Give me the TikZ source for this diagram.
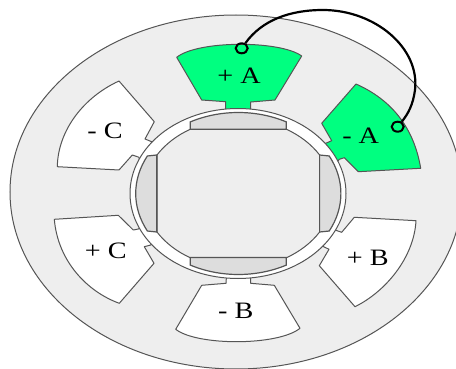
\documentclass[tikz,border=0pt]{standalone}
\usepackage{fontspec}
\setmainfont[FakeStretch=1.2]{Liberation Serif}
\definecolor{yokegray}{HTML}{EEEEEE}
\definecolor{magnetgray}{HTML}{DDDDDD}
\definecolor{coilgreen}{HTML}{00FF80}
\definecolor{edgegray}{HTML}{555555}
\tikzset{
  yoke/.style={draw=edgegray,fill=yokegray,line width=1pt},
  pole/.style={draw=edgegray,line width=1pt,line join=round},
  whitepole/.style={pole,fill=white},
  greenpole/.style={pole,fill=coilgreen},
  bore/.style={draw=edgegray,fill=white,line width=1pt},
  rotor/.style={draw=edgegray,fill=yokegray,line width=1pt},
  magnet/.style={draw=edgegray,fill=magnetgray,line width=1.2pt,line join=miter},
  polelabel/.style={inner sep=0pt,font=\fontsize{23.5}{25}\selectfont},
  terminal/.style={draw=black,line width=2pt,ellipse,minimum width=12pt,minimum height=10pt,inner sep=0pt},
  wire/.style={draw=black,line width=2.2pt}
}
\usetikzlibrary{shapes.geometric}
\def\rp#1{({238.3+95*cos(#1)},{193.5-74.5*sin(#1)})}
\def\mg#1{({238.3+102.6*cos(#1)},{193.5-81*sin(#1)})}
\begin{document}
\begin{tikzpicture}[x=1pt,y=-1pt]
\useasboundingbox (0,0) rectangle (456,369);
\clip (0,0) rectangle (456,369);
% yoke
\path[yoke] (236,192) ellipse [x radius=226pt,y radius=177pt];
% poles
\path[greenpole] (201.7,100) -- (225.7,101.7) -- (225.7,114) -- (250.5,114) -- (250.7,102) -- (275,100) -- (301.7,56)
  .. controls (280,40.2) and (198,40.2) .. (176.7,57.3) -- cycle;
\path[greenpole] (356,84) -- (321.7,123.3) -- (331.7,140.7) -- (325.7,143.3) -- (320,150) -- (335,165) -- (339.3,159.3) -- (344.3,157.7) -- (358.3,171.7) -- (420.7,168.3)
  .. controls (414,128) and (392,100) .. (356,84) -- cycle;
\path[whitepole] (119,81) -- (154.3,121.7) -- (145,139) -- (151.7,141.7) -- (158,150) -- (140,165) -- (139,157.3) -- (132.3,155) -- (119,170) -- (57.3,166.7)
  .. controls (58,130) and (84,97) .. (119,81) -- cycle;
\path[whitepole] (118.3,215.3) -- (133.3,230) -- (138.3,229) -- (145,225) -- (155,240) -- (150.7,245) -- (144.3,246.7) -- (154,263.3) -- (119.3,303.3)
  .. controls (88,292) and (58,262) .. (54.3,219.3) -- cycle;
\path[whitepole] (354.3,217.3) -- (341.7,232.3) -- (335,230) -- (330,225) -- (318,240) -- (322.3,246) -- (329,249.3) -- (319.3,265.7) -- (355,306.7)
  .. controls (385,292) and (414,258) .. (416,220.7) -- cycle;
\path[whitepole] (201.7,285.3) -- (226,283.3) -- (226.7,272) -- (250.7,272) -- (250.7,283.3) -- (274.3,285.3) -- (300,328.3)
  .. controls (278,346) and (197,346) .. (175.7,329.3) -- cycle;
% air gap
\path[bore] (238,193.5) ellipse [x radius=108pt,y radius=85pt];
% rotor
\path[rotor] \rp{59.7} -- \rp{120.3} arc[start angle=120.3,end angle=148.8,x radius=95pt,y radius=74.5pt]
  -- \rp{211.2} arc[start angle=211.2,end angle=239.7,x radius=95pt,y radius=74.5pt]
  -- \rp{300.3} arc[start angle=300.3,end angle=328.8,x radius=95pt,y radius=74.5pt]
  -- \rp{31.2} arc[start angle=31.2,end angle=59.7,x radius=95pt,y radius=74.5pt] -- cycle;
% magnets
\path[magnet] (190.3,129.2) -- \mg{117.9} arc[start angle=117.9,end angle=62.1,x radius=102.6pt,y radius=81pt] -- (286.3,129.2) -- cycle;
\path[magnet] (190.3,257.5) -- \mg{242.1} arc[start angle=242.1,end angle=297.9,x radius=102.6pt,y radius=81pt] -- (286.3,257.5) -- cycle;
\path[magnet] (156.7,155) -- \mg{152.4} arc[start angle=152.4,end angle=207.6,x radius=102.6pt,y radius=81pt] -- (156.7,232) -- cycle;
\path[magnet] (319.6,155) -- \mg{27.6} arc[start angle=27.6,end angle=-27.6,x radius=102.6pt,y radius=81pt] -- (319.6,232) -- cycle;
% labels
\node[polelabel] (lpa) at (239,76) {+ A};
\node[polelabel] (lma) at (360.7,135.7) {- A};
\node[polelabel] (lmc) at (105,131) {- C};
\node[polelabel] (lpc) at (105.7,251) {+ C};
\node[polelabel] (lmb) at (235.7,311) {- B};
\node[polelabel] (lpb) at (367.7,258.3) {+ B};
% winding
\node[terminal] (ta) at (241.7,48.3) {};
\node[terminal] (tb) at (397.7,126.7) {};
\path[wire] (ta) .. controls (262,20) and (290,10) .. (323,10) .. controls (375,10) and (420,48) .. (415,90) .. controls (413,105) and (408,114) .. (tb);
\end{tikzpicture}
\end{document}
